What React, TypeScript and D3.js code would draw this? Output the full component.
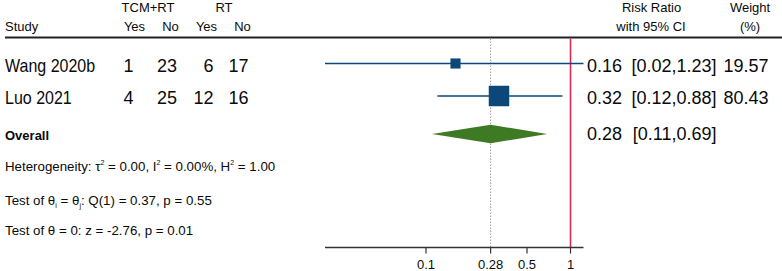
import React from "react";
import * as d3 from "d3";

const studies = ["Wang 2020b", "Luo 2021"];
const tcmYes = [1, 4];
const tcmNo = [23, 25];
const rtYes = [6, 12];
const rtNo = [17, 16];
const rr = [0.16, 0.32];
const ciLow = [0.02, 0.12];
const ciHigh = [1.23, 0.88];
const weights = [19.57, 80.43];
const overallRR = 0.28;
const overallLow = 0.11;
const overallHigh = 0.69;
const tickValues = [0.1, 0.28, 0.5, 1];

const W = 782;
const H = 271;
const FONT = "'Liberation Sans', Arial, Helvetica, sans-serif";
const NAVY = "#0b4778";
const GREEN = "#3e7a24";
const RED = "#dc2a55";
const INK = "#0a0a0a";

const fmt = d3.format(".2f");

export default function App() {
  const x = d3
    .scaleLog()
    .domain([d3.min(ciLow) as number, d3.max(ciHigh) as number])
    .range([325, 583.5]);
  const y = d3.scaleLinear().domain([0, 1]).range([63.5, 96]);
  const overallY = 134;
  const size = d3
    .scaleSqrt()
    .domain([0, d3.max(weights) as number])
    .range([0, 20.5]);
  const axisY = 247.5;
  const topY = 38.5;

  const colRight = [133.5, 177, 213.5, 248.5];
  const cols = [tcmYes, tcmNo, rtYes, rtNo];

  const diamond = d3.line<[number, number]>()([
    [x(overallLow), overallY],
    [x(overallRR), overallY - 9.3],
    [x(overallHigh), overallY],
    [x(overallRR), overallY + 9.3],
  ]) + "Z";

  return (
    <svg
      width={W}
      height={H}
      style={{ position: "absolute", left: 0, top: 0, background: "#fff" }}
      fontFamily={FONT}
    >
      {/* header */}
      <g fontSize={13} fill={INK}>
        <text x={148} y={11.5} textAnchor="middle">TCM+RT</text>
        <text x={224} y={11.5} textAnchor="middle">RT</text>
        <text x={5} y={30.5}>Study</text>
        <text x={134.5} y={30.5} textAnchor="middle">Yes</text>
        <text x={170.5} y={30.5} textAnchor="middle">No</text>
        <text x={206.5} y={30.5} textAnchor="middle">Yes</text>
        <text x={242.5} y={30.5} textAnchor="middle">No</text>
        <text x={651.5} y={11.5} textAnchor="middle">Risk Ratio</text>
        <text x={651} y={30.5} textAnchor="middle">with 95% CI</text>
        <text x={750} y={11.5} textAnchor="middle">Weight</text>
        <text x={750} y={30.5} textAnchor="middle">(%)</text>
      </g>
      <line x1={5} x2={782} y1={37.5} y2={37.5} stroke="#222" strokeWidth={1.8} />

      {/* reference lines */}
      <line
        x1={x(overallRR)}
        x2={x(overallRR)}
        y1={topY}
        y2={axisY}
        stroke="#999"
        strokeWidth={1}
        strokeDasharray="1.5,1.5"
      />
      <line x1={x(1)} x2={x(1)} y1={topY} y2={axisY} stroke={RED} strokeWidth={1.6} />

      {/* study rows */}
      {studies.map((s, i) => {
        const cy = y(i);
        const sz = size(weights[i]);
        return (
          <g key={s}>
            <text
              transform={`translate(5,${cy + 8}) scale(0.89,1)`}
              fontSize={18}
              fill={INK}
            >
              {s}
            </text>
            {cols.map((c, j) => (
              <text key={j} x={colRight[j]} y={cy + 8} fontSize={18} textAnchor="end" fill={INK}>
                {c[i]}
              </text>
            ))}
            <line
              x1={x(ciLow[i])}
              x2={x(ciHigh[i])}
              y1={cy}
              y2={cy}
              stroke={NAVY}
              strokeWidth={1.6}
            />
            <rect
              x={x(rr[i]) - sz / 2}
              y={cy - sz / 2}
              width={sz}
              height={sz}
              fill={NAVY}
            />
            <text x={587} y={cy + 8} fontSize={18} fill={INK}>
              {fmt(rr[i])}
            </text>
            <text x={716.5} y={cy + 8} fontSize={18} fill={INK} textAnchor="end">
              {`[${fmt(ciLow[i])},${fmt(ciHigh[i])}]`}
            </text>
            <text x={768.5} y={cy + 8} fontSize={18} fill={INK} textAnchor="end">
              {fmt(weights[i])}
            </text>
          </g>
        );
      })}

      {/* overall */}
      <text x={5} y={139.5} fontSize={13} fontWeight="bold" fill={INK}>Overall</text>
      <path d={diamond} fill={GREEN} />
      <text x={587} y={140} fontSize={18} fill={INK}>{fmt(overallRR)}</text>
      <text x={716.5} y={140} fontSize={18} fill={INK} textAnchor="end">
        {`[${fmt(overallLow)},${fmt(overallHigh)}]`}
      </text>

      {/* statistics */}
      <g fontSize={13.3} fill={INK}>
        <text x={5} y={171}>
          Heterogeneity: τ<tspan fontSize={7} dy={-6}>2</tspan>
          <tspan dy={6}> = 0.00, I</tspan>
          <tspan fontSize={7} dy={-6}>2</tspan>
          <tspan dy={6}> = 0.00%, H</tspan>
          <tspan fontSize={7} dy={-6}>2</tspan>
          <tspan dy={6}> = 1.00</tspan>
        </text>
        <text x={5} y={205}>
          Test of θ<tspan fontSize={7} dy={3}>i</tspan>
          <tspan dy={-3}> = θ</tspan>
          <tspan fontSize={7} dy={3}>j</tspan>
          <tspan dy={-3}>: Q(1) = 0.37, p = 0.55</tspan>
        </text>
        <text x={5} y={235}>Test of θ = 0: z = -2.76, p = 0.01</text>
      </g>

      {/* axis */}
      <line x1={x.range()[0]} x2={x.range()[1]} y1={axisY} y2={axisY} stroke="#333" strokeWidth={1.5} />
      {tickValues.map((t) => (
        <g key={t} transform={`translate(${x(t)},0)`}>
          <line y1={axisY} y2={axisY + 6} stroke="#333" strokeWidth={1.2} />
          <text y={269} fontSize={13} textAnchor="middle" fill={INK}>
            {String(t)}
          </text>
        </g>
      ))}
    </svg>
  );
}
